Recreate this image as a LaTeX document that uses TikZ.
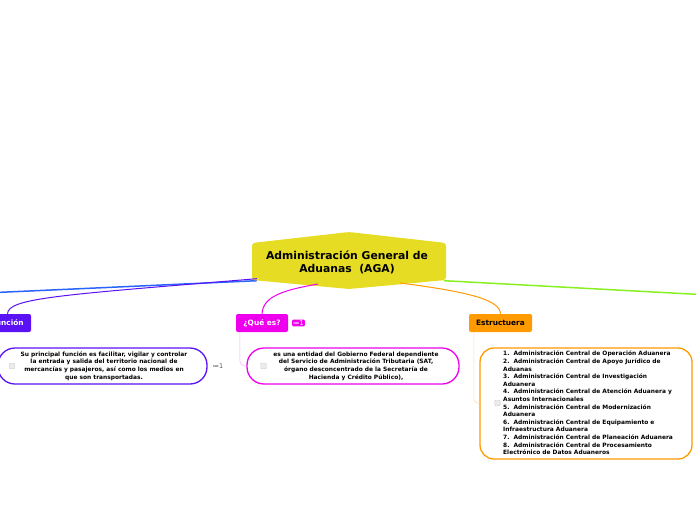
\documentclass[tikz,border=0pt]{standalone}
\usepackage{fontspec}
\setmainfont{DejaVu Sans}
\definecolor{agayellow}{HTML}{E6DC23}
\definecolor{funcpurple}{HTML}{5A12F4}
\definecolor{lineblue}{HTML}{2A64FF}
\definecolor{quemagenta}{HTML}{EE00EE}
\definecolor{estorange}{HTML}{FF9A00}
\definecolor{linegreen}{HTML}{88F022}
\begin{document}
\begin{tikzpicture}[x=1pt, y=-1pt,
  topic/.style={rounded corners=2pt, minimum height=18pt, inner sep=1pt, font=\fontsize{7.4}{8}\selectfont\bfseries},
  desc/.style={draw, line width=1.3pt, fill=white, minimum width=212pt, minimum height=36pt, rounded corners=17pt},
  dtext/.style={font=\fontsize{5.9}{7.6}\selectfont\bfseries, inner sep=0pt},
  chk/.style={draw=gray!40, fill=gray!15, rounded corners=1pt, minimum size=5.5pt, inner sep=0pt, line width=0.4pt},
  branch/.style={line width=1.5pt}]
  \useasboundingbox (0,0) rectangle (696,520);
  \clip (0,0) rectangle (696,520);
  % main topic
  \node[minimum width=194pt, minimum height=37pt, inner sep=0pt] (aga) at (349,261) {};
  \coordinate (leftend) at (-4,292.5);
  \coordinate (rightend) at (700,294.5);
  \draw[branch, lineblue] ([xshift=5pt, yshift=-1pt]aga.south west) -- (leftend);
  \draw[branch, linegreen] ([xshift=-2pt, yshift=-1pt]aga.south east) -- (rightend);
  \fill[agayellow, rounded corners=3pt] (252,243) -- (349,232) -- (446,243) -- (446,280) -- (349,289) -- (252,280) -- cycle;
  \node[font=\fontsize{10.8}{13}\selectfont\bfseries, align=center] (agatext) at (347,262) {Administración General de\\Aduanas~~(AGA)};
  % subtopics
  \node[topic, fill=funcpurple, text=white, minimum width=47pt] (funcion) at (7.5,323) {Función};
  \node[topic, fill=quemagenta, text=white, minimum width=52pt] (quees) at (262,323) {¿Qué es?};
  \node[topic, fill=estorange, minimum width=63pt] (estructura) at (500.5,323) {Estructuera};
  \draw[funcpurple, line width=1pt] ([xshift=5pt, yshift=1pt]aga.south west) .. controls (60,295) and (8,298) .. (funcion.north);
  \draw[quemagenta, line width=1pt] (318,284) .. controls (284,290) and (263,296) .. (quees.north);
  \draw[estorange, line width=1pt] (400,283) .. controls (470,292) and (500,300) .. (estructura.north);
  \node[fill=quemagenta, text=white, rounded corners=1pt, inner sep=1pt, font=\fontsize{6.5}{6.5}\selectfont] (queesbadge) at (298.5,323) {≔1};
  % details
  \node[desc, draw=funcpurple, minimum width=209pt] (funciondesc) at (102.5,366) {};
  \node[desc, draw=quemagenta] (queesdesc) at (353,366) {};
  \node[desc, draw=estorange, minimum height=111pt, rounded corners=14pt] (estructuradesc) at (586,403.5) {};
  \draw[quemagenta!30, line width=0.6pt, rounded corners=5pt] ([xshift=4pt]quees.south west) |- (queesdesc.west);
  \draw[estorange!35, line width=0.6pt, rounded corners=5pt] ([xshift=5pt]estructura.south west) |- (estructuradesc.west);
  \node[chk] (funcionchk) at (12,366) {};
  \node[chk] (queeschk) at (263.5,366) {};
  \node[chk] (estructurachk) at (497.5,403) {};
  \node[dtext, align=center] (funciontext) at (104,366) {Su principal función es facilitar, vigilar y controlar\\la entrada y salida del territorio nacional de\\mercancías y pasajeros, así como los medios en\\que son transportadas.};
  \node[dtext, align=center] (queestext) at (356,366) {es una entidad del Gobierno Federal dependiente\\del Servicio de Administración Tributaria (SAT,\\órgano desconcentrado de la Secretaría de\\Hacienda y Crédito Público),};
  \node[dtext, align=left, anchor=west] (estructuratext) at (503,403) {1.~~Administración Central de Operación Aduanera\\2.~~Administración Central de Apoyo Jurídico de\\Aduanas\\3.~~Administración Central de Investigación\\Aduanera\\4.~~Administración Central de Atención Aduanera y\\Asuntos Internacionales\\5.~~Administración Central de Modernización\\Aduanera\\6.~~Administración Central de Equipamiento e\\Infraestructura Aduanera\\7.~~Administración Central de Planeación Aduanera\\8.~~Administración Central de Procesamiento\\Electrónico de Datos Aduaneros};
  \node[text=gray!70!black, font=\fontsize{6.5}{6.5}\selectfont] (funcionbadge) at (218,366) {≔1};
\end{tikzpicture}
\end{document}
